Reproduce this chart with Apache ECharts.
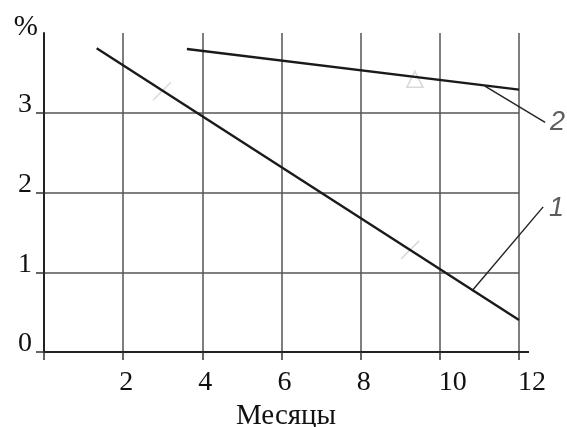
<!DOCTYPE html>
<html>
<head>
<meta charset="utf-8">
<script src="https://cdn.jsdelivr.net/npm/echarts@6/dist/echarts.min.js"></script>
<style>
html,body{margin:0;padding:0;background:#fff;}
#chart{width:567px;height:427px;}
</style>
</head>
<body>
<div id="chart"></div>
<script>
// ---- data ----
const xTickValues = [0, 2, 4, 6, 8, 10, 12];
const yTickValues = [0, 1, 2, 3];
const xAxisTitle = 'Месяцы';
const yAxisTitle = '%';
const curve1 = [[1.33, 3.81], [12, 0.40]];
const curve2 = [[3.61, 3.80], [12, 3.29]];
const slashMarks = [[2.98, 3.27], [9.25, 1.28]];
const triangleMarks = [[9.37, 3.42]];
const leader1 = [[10.81, 0.765], [12.61, 1.82]];
const leader2 = [[11.14, 3.335], [12.66, 2.88]];
const curveLabels = [
  { name: '1', value: [12.95, 1.80] },
  { name: '2', value: [12.97, 2.88] }
];

const serif = "'Liberation Serif', 'DejaVu Serif', serif";
const sans = "'Liberation Sans', 'DejaVu Sans', sans-serif";
const chart = echarts.init(document.getElementById('chart'));

const option = {
  backgroundColor: '#ffffff',
  animation: false,
  grid: { left: 44, right: 48, top: 33, bottom: 75, containLabel: false, outerBoundsMode: 'none' },
  xAxis: {
    type: 'value', min: 0, max: 12, interval: 2,
    name: xAxisTitle, nameLocation: 'middle', nameGap: 49,
    nameTextStyle: { fontFamily: serif, fontSize: 29, color: '#111', padding: [0, 0, 0, 9] },
    axisLine: { show: true, lineStyle: { color: '#222', width: 2 } },
    axisTick: { show: true, length: 8, lineStyle: { color: '#333', width: 1.5 } },
    axisLabel: {
      fontFamily: serif, fontSize: 28, color: '#111', margin: 17,
      formatter: function (v) {
        if (v === 0) return '';
        return v >= 10 ? '{w|' + v + '}' : '{n|' + v + '}';
      },
      rich: {
        w: { fontFamily: serif, fontSize: 28, color: '#111', padding: [0, 0, 0, 26] },
        n: { fontFamily: serif, fontSize: 28, color: '#111', padding: [0, 0, 0, 6] }
      }
    },
    splitLine: { show: true, lineStyle: { color: '#555', width: 1.5 } }
  },
  yAxis: {
    type: 'value', min: 0, max: 4, interval: 1,
    name: yAxisTitle, nameLocation: 'end', nameGap: -9,
    nameTextStyle: { fontFamily: serif, fontSize: 29, color: '#111', align: 'right', verticalAlign: 'bottom', padding: [0, 6, 0, 0] },
    axisLine: { show: true, lineStyle: { color: '#222', width: 2 } },
    axisTick: { show: true, length: 8, customValues: yTickValues, lineStyle: { color: '#333', width: 1.5 } },
    axisLabel: {
      fontFamily: serif, fontSize: 28, color: '#111', margin: 12,
      customValues: yTickValues,
      verticalAlign: 'bottom', lineHeight: 16
    },
    splitLine: { show: true, lineStyle: { color: '#555', width: 1.5 } }
  },
  series: [
    { type: 'line', data: curve1, symbol: 'none', lineStyle: { color: '#1a1a1a', width: 2.4 }, z: 5 },
    { type: 'line', data: curve2, symbol: 'none', lineStyle: { color: '#1a1a1a', width: 2.4 }, z: 5 },
    {
      type: 'lines', coordinateSystem: 'cartesian2d', clip: false, z: 5,
      data: [{ coords: leader1 }, { coords: leader2 }],
      lineStyle: { color: '#222', width: 1.4, type: 'solid', opacity: 1 }
    },
    {
      type: 'scatter', data: slashMarks, symbol: 'path://M0,20 L20,0', symbolSize: 18,
      itemStyle: { color: 'none', borderColor: '#d2d2d2', borderWidth: 1.6 }, z: 3
    },
    {
      type: 'scatter', data: triangleMarks, symbol: 'triangle', symbolSize: [16, 16],
      itemStyle: { color: 'rgba(255,255,255,0)', borderColor: '#cfcfcf', borderWidth: 1.6 }, z: 3
    },
    {
      type: 'scatter', data: curveLabels, symbolSize: 0, clip: false,
      label: {
        show: true, position: 'inside', formatter: '{b}',
        fontFamily: sans, fontStyle: 'italic', fontSize: 27, color: '#333'
      }, z: 6
    }
  ]
};
chart.setOption(option);

// short extension of the x axis line beyond the last tick
const p = chart.convertToPixel({ gridIndex: 0 }, [12, 0]);
chart.setOption({
  graphic: [{
    type: 'line', shape: { x1: p[0], y1: p[1], x2: p[0] + 10, y2: p[1] },
    style: { stroke: '#222', lineWidth: 2 }, z: 10
  }]
});
</script>
</body>
</html>
